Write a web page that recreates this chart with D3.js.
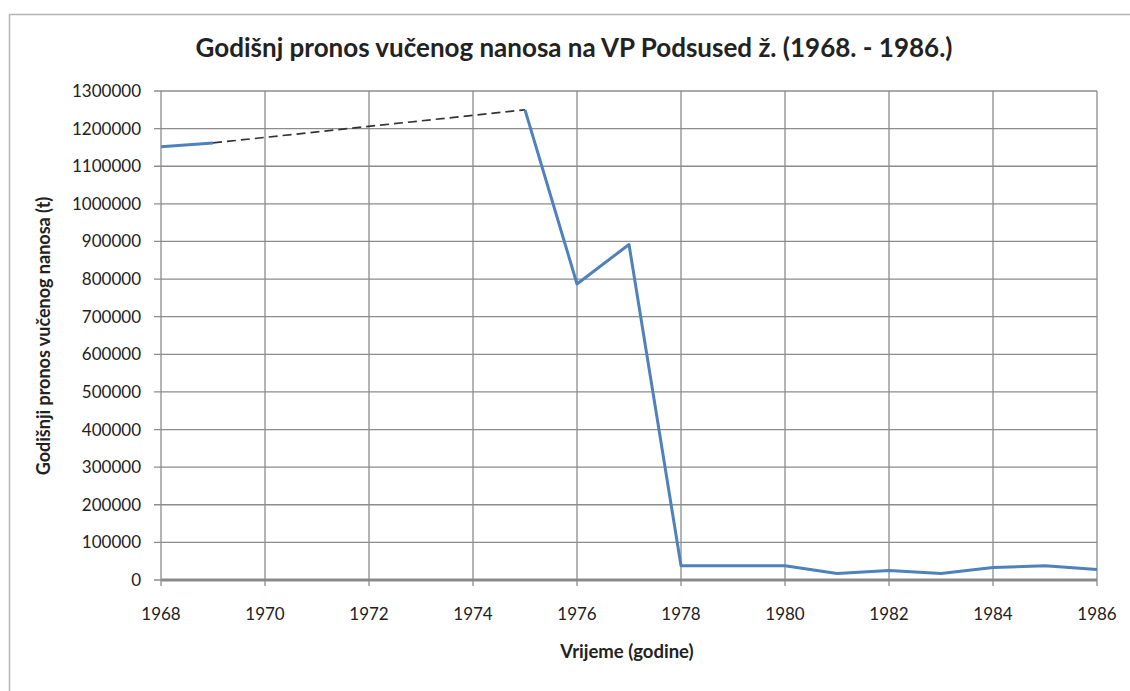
<!DOCTYPE html>
<html>
<head>
  <meta charset="utf-8">
  <script src="https://d3js.org/d3.v7.min.js"></script>
  <style>
    body { margin: 0; background: #fff; }
    text { font-family: Lato, "Open Sans", sans-serif; fill: #222; }
  </style>
</head>
<body>
<script>
  // annual values, null = no measurement (bridged by dashed line)
  var years = [1968, 1969, 1970, 1971, 1972, 1973, 1974, 1975, 1976, 1977,
               1978, 1979, 1980, 1981, 1982, 1983, 1984, 1985, 1986];
  var values = [1152000, 1162000, null, null, null, null, null, 1250000, 787000, 892000,
                38000, 38000, 38000, 17000, 25000, 17000, 33000, 38000, 28000];
  var xTicks = [1968, 1970, 1972, 1974, 1976, 1978, 1980, 1982, 1984, 1986];
  var yTicks = d3.range(0, 1300001, 100000);

  var title = "Godišnj pronos vučenog nanosa na VP Podsused ž. (1968. - 1986.)";
  var xTitle = "Vrijeme (godine)";
  var yTitle = "Godišnji pronos vučenog nanosa (t)";

  var W = 1130, H = 691;
  var m = { left: 161, right: 1097, top: 91, bottom: 580 };

  var svg = d3.select("body").append("svg")
      .attr("width", W).attr("height", H);

  // outer chart frame
  svg.append("rect")
      .attr("x", 9.5).attr("y", 14.5)
      .attr("width", 1140).attr("height", 700)
      .attr("fill", "none").attr("stroke", "#b5b5b5").attr("stroke-width", 1.5);

  var x = d3.scaleLinear().domain([1968, 1986]).range([m.left, m.right]);
  var y = d3.scaleLinear().domain([0, 1300000]).range([m.bottom, m.top]);

  // grid
  svg.append("g").selectAll("line").data(yTicks).enter().append("line")
      .attr("x1", m.left - 7).attr("x2", m.right)
      .attr("y1", function(d) { return y(d); })
      .attr("y2", function(d) { return y(d); })
      .attr("stroke", "#8c8c8c").attr("stroke-width", 1.3);

  svg.append("g").selectAll("line").data(xTicks).enter().append("line")
      .attr("x1", function(d) { return x(d); })
      .attr("x2", function(d) { return x(d); })
      .attr("y1", m.top).attr("y2", m.bottom + 6)
      .attr("stroke", "#8c8c8c").attr("stroke-width", 1.3);

  // baseline
  svg.append("line")
      .attr("x1", m.left).attr("x2", m.right)
      .attr("y1", m.bottom).attr("y2", m.bottom)
      .attr("stroke", "#8a8a8a").attr("stroke-width", 3);

  // tick labels
  svg.append("g").selectAll("text").data(yTicks).enter().append("text")
      .attr("x", 141)
      .attr("y", function(d) { return y(d) + 6; })
      .attr("text-anchor", "end")
      .style("font-size", "17px")
      .text(function(d) { return d; });

  svg.append("g").selectAll("text").data(xTicks).enter().append("text")
      .attr("x", function(d) { return x(d); })
      .attr("y", 620)
      .attr("text-anchor", "middle")
      .style("font-size", "17px")
      .text(function(d) { return d; });

  // data lines
  var pts = years.map(function(yr, i) { return { yr: yr, v: values[i] }; });

  var line = d3.line()
      .defined(function(d) { return d.v !== null; })
      .x(function(d) { return x(d.yr); })
      .y(function(d) { return y(d.v); });

  // dashed bridge over the gaps
  var bridges = [];
  for (var i = 0; i < pts.length - 1; i++) {
    if (pts[i].v !== null && pts[i + 1].v === null) {
      var j = i + 1;
      while (j < pts.length && pts[j].v === null) j++;
      if (j < pts.length) bridges.push([pts[i], pts[j]]);
    }
  }
  svg.append("g").selectAll("path").data(bridges).enter().append("path")
      .attr("d", line)
      .attr("fill", "none")
      .attr("stroke", "#333")
      .attr("stroke-width", 1.7)
      .attr("stroke-dasharray", "9,5");

  svg.append("path")
      .datum(pts)
      .attr("d", line)
      .attr("fill", "none")
      .attr("stroke", "#4f81bd")
      .attr("stroke-width", 3)
      .attr("stroke-linejoin", "round");

  // titles
  svg.append("text")
      .attr("x", 574).attr("y", 57)
      .attr("text-anchor", "middle")
      .style("font-size", "26px").style("font-weight", "bold")
      .text(title);

  svg.append("text")
      .attr("x", 627).attr("y", 658)
      .attr("text-anchor", "middle")
      .style("font-size", "18.5px").style("font-weight", "bold")
      .text(xTitle);

  svg.append("text")
      .attr("transform", "translate(50,336) rotate(-90)")
      .attr("text-anchor", "middle")
      .style("font-size", "18px").style("font-weight", "bold")
      .text(yTitle);
</script>
</body>
</html>
